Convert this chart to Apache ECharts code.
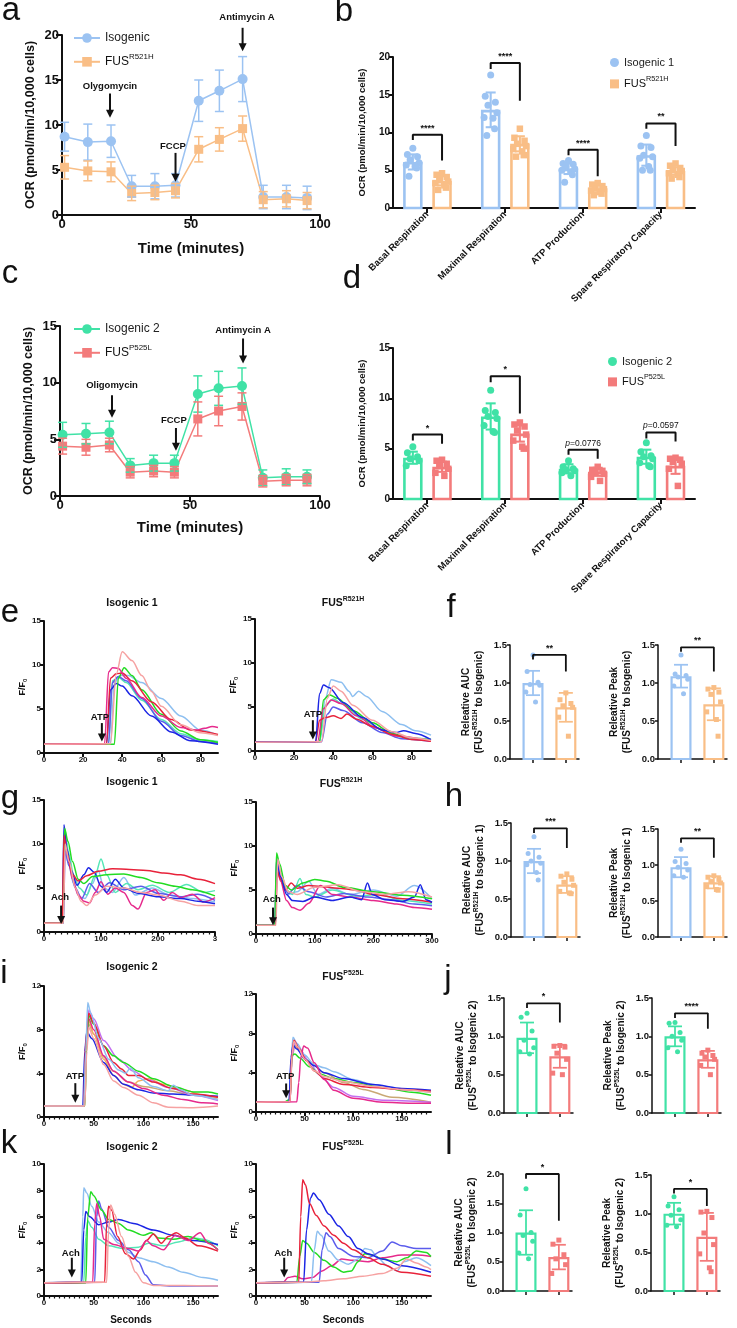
<!DOCTYPE html>
<html>
<head>
<meta charset="utf-8">
<script src="https://cdn.jsdelivr.net/npm/echarts@6/dist/echarts.min.js"></script>
<style>
html, body { margin: 0; padding: 0; background: #fff; }
#main { width: 737px; height: 1328px; }
</style>
</head>
<body>
<div id="main"></div>
<script>
"use strict";
/* ============= data: a / c  OCR time course ============= */
const timePts = [1, 10, 19, 27, 36, 44, 53, 61, 70, 78, 87, 95];
const aIsoMean = [8.7, 8.1, 8.2, 3.2, 3.2, 3.3, 12.7, 13.8, 15.1, 2.0, 2.0, 1.9];
const aIsoSd = [1.6, 2.0, 1.8, 1.2, 1.4, 1.3, 2.3, 2.3, 2.5, 1.3, 1.3, 1.3];
const aMutMean = [5.3, 4.9, 4.8, 2.4, 2.5, 2.7, 7.3, 8.4, 9.6, 1.7, 1.8, 1.6];
const aMutSd = [1.3, 1.1, 1.1, 0.8, 0.8, 0.8, 1.4, 1.3, 1.4, 0.9, 0.9, 0.9];
const cIsoMean = [5.4, 5.5, 5.6, 2.7, 2.9, 2.9, 9.0, 9.5, 9.7, 1.6, 1.7, 1.7];
const cIsoSd = [1.1, 0.9, 1.0, 0.6, 0.7, 0.7, 1.6, 1.5, 1.6, 0.7, 0.7, 0.6];
const cMutMean = [4.4, 4.3, 4.5, 2.1, 2.2, 2.1, 6.8, 7.5, 7.9, 1.3, 1.4, 1.4];
const cMutSd = [0.7, 0.7, 0.6, 0.5, 0.5, 0.5, 1.5, 1.3, 1.2, 0.5, 0.5, 0.5];
const aNotes = ["Olygomycin", "FCCP", "Antimycin A"];
const aNotePos = [[18.6, 14.3], [43, 7.6], [71.7, 22]];
const aArrows = [[18.6, 13.5, 10.8], [44, 6.9, 3.7], [70, 20.8, 18.2]];
const cNotes = ["Oligomycin", "FCCP", "Antimycin A"];
const cNotePos = [[20, 9.8], [43.8, 6.7], [70.4, 14.6]];
const cArrows = [[20, 8.9, 6.9], [44.6, 6.0, 4.0], [70.4, 13.9, 11.7]];

/* ============= data: b / d  respiration parameters ============= */
const respCats = ["Basal Respiration", "Maximal Respiration", "ATP Production", "Spare Respiratory Capacity"];
const bIsoMean = [6.1, 13.0, 5.2, 7.0];
const bIsoSd = [1.0, 2.3, 0.7, 1.4];
const bMutMean = [3.6, 8.5, 2.6, 4.9];
const bMutSd = [0.6, 1.0, 0.5, 0.5];
const bIsoPts = [
    [7.9, 7.1, 6.8, 6.4, 6.0, 5.7, 5.5, 5.3, 4.2],
    [17.6, 14.8, 14.0, 13.6, 12.6, 12.0, 11.9, 10.5, 9.6],
    [6.3, 5.9, 5.8, 5.5, 5.2, 5.0, 4.8, 4.4, 3.4],
    [9.6, 8.2, 8.0, 7.0, 6.8, 6.6, 5.5, 5.0, 5.0]];
const bMutPts = [
    [4.6, 4.4, 4.1, 3.8, 3.5, 3.3, 3.0, 2.7, 2.4],
    [10.5, 9.3, 8.9, 8.5, 8.2, 7.8, 7.5, 7.0, 6.8],
    [3.3, 3.1, 2.9, 2.7, 2.5, 2.3, 2.1, 1.9, 1.7],
    [5.9, 5.6, 5.3, 5.1, 4.9, 4.6, 4.4, 4.1, 3.9]];
const bSig = ["****", "****", "****", "**"];
const bSigTop = [9.7, 19.2, 7.7, 11.2];
const bSigLeft = [9.0, 18.4, 7.0, 10.5];
const bSigRight = [6.3, 14.2, 4.2, 8.2];

const dIsoMean = [4.1, 8.2, 3.0, 4.2];
const dIsoSd = [0.6, 1.3, 0.45, 0.7];
const dMutMean = [3.2, 6.5, 2.7, 3.3];
const dMutSd = [0.5, 0.8, 0.4, 0.8];
const dIsoPts = [
    [5.2, 4.6, 4.2, 4.0, 3.8, 3.3],
    [10.8, 8.8, 8.6, 8.2, 8.0, 7.3, 6.7, 6.6],
    [3.8, 3.2, 3.0, 2.9, 2.8, 2.6, 2.3],
    [5.6, 4.7, 4.3, 4.2, 4.0, 3.6, 3.3, 3.2]];
const dMutPts = [
    [3.9, 3.8, 3.5, 3.3, 3.0, 2.6, 2.3],
    [7.6, 7.4, 7.2, 6.8, 6.4, 5.8, 5.2, 5.0],
    [3.2, 2.9, 2.8, 2.7, 2.5, 2.2, 1.8],
    [4.1, 4.0, 3.9, 3.7, 3.5, 3.0, 1.3]];
const dSig = ["*", "*", "{i|p}=0.0776", "{i|p}=0.0597"];
const dSigTop = [6.4, 12.2, 4.9, 6.6];
const dSigLeft = [5.8, 11.6, 4.4, 6.0];
const dSigRight = [5.5, 8.5, 4.0, 5.7];

/* ============= data: calcium traces [colour, [seconds, F/F0]] ============= */
const eIso1 = [
    ["lightblue", [[0, 1], [34, 1.05], [36, 8.0], [39, 8.8], [43, 8.8], [50, 8.0], [60, 6.2], [70, 4.2], [80, 2.6], [89, 2.0]]],
    ["teal", [[0, 1], [33, 1.05], [35, 8.2], [38, 8.6], [42, 8.0], [50, 6.0], [60, 3.8], [70, 2.2], [80, 1.5], [89, 1.3]]],
    ["midblue", [[0, 1], [33, 1.0], [35, 8.0], [38, 8.7], [42, 8.2], [50, 6.2], [60, 3.6], [70, 2.0], [80, 1.3], [89, 1.1]]],
    ["blue", [[0, 1], [32, 1.05], [34, 7.2], [37, 7.9], [40, 7.6], [45, 6.5], [55, 4.2], [65, 2.4], [75, 1.4], [89, 1.0]]],
    ["green", [[0, 1], [36, 1.0], [38, 8.5], [41, 9.7], [45, 8.8], [50, 7.2], [60, 4.4], [70, 2.5], [80, 1.5], [89, 1.2]]],
    ["red", [[0, 1], [32, 1.05], [34, 8.5], [37, 9.0], [40, 9.1], [45, 8.2], [55, 5.8], [65, 3.8], [75, 2.6], [89, 2.1]]],
    ["pink", [[0, 1], [31, 1.05], [33, 9.2], [35, 9.7], [38, 9.6], [42, 8.5], [50, 6.3], [60, 4.2], [70, 2.9], [78, 2.6], [82, 2.8], [86, 3.0], [89, 2.9]]],
    ["salmon", [[0, 1], [34, 1.05], [37, 9], [40, 11.5], [45, 10.5], [50, 8.8], [55, 7], [60, 5.3], [70, 3.2], [80, 2.3], [89, 2.0]]]];
const eMut1 = [
    ["lightblue", [[0, 1], [33, 1.05], [36, 6], [39, 8.1], [44, 7.8], [48, 6.8], [50, 6.2], [53, 6.8], [57, 6.2], [65, 4.5], [75, 3.0], [82, 2.3], [90, 1.8]]],
    ["teal", [[0, 1], [33, 1.05], [36, 5.2], [40, 5.9], [45, 5.3], [55, 3.6], [65, 2.4], [75, 1.6], [90, 1.3]]],
    ["green", [[0, 1], [33, 1.05], [35, 5.8], [38, 6.4], [42, 6.0], [50, 4.6], [60, 3.2], [70, 2.0], [80, 1.4], [90, 1.3]]],
    ["midblue", [[0, 1], [34, 1.05], [37, 4.2], [40, 5.0], [45, 4.6], [55, 3.2], [65, 2.1], [75, 1.4], [90, 1.1]]],
    ["pink", [[0, 1], [32, 1.05], [35, 4.8], [39, 5.8], [44, 5.4], [52, 4.0], [62, 2.6], [72, 1.7], [90, 1.1]]],
    ["red", [[0, 1], [31, 1.05], [33, 3.5], [36, 3.8], [40, 4.0], [44, 3.7], [47, 4.2], [52, 3.6], [60, 2.8], [70, 1.9], [80, 1.3], [90, 1.1]]],
    ["blue", [[0, 1], [31, 1.05], [33, 6.5], [35, 7.5], [38, 7.2], [45, 5.5], [55, 3.8], [65, 2.4], [72, 2.1], [76, 2.3], [82, 2.0], [90, 1.3]]],
    ["salmon", [[0, 1], [34, 1.05], [37, 6], [40, 7.4], [44, 6.8], [50, 5.2], [60, 3.5], [70, 2.2], [80, 1.5], [90, 1.2]]]];
const gIso1 = [
    ["lightblue", [[0, 1], [33, 1], [36, 9.5], [42, 8], [52, 5.5], [62, 4], [72, 3.8], [85, 5.5], [95, 7], [105, 5], [120, 4.5], [140, 6.2], [160, 4.2], [190, 5], [220, 4.2], [260, 3.8], [300, 3.4]]],
    ["teal", [[0, 1], [34, 1], [37, 11.5], [43, 9], [52, 6.5], [62, 5], [75, 4.2], [90, 6.5], [100, 8.3], [110, 6.5], [125, 4.5], [145, 5.5], [165, 4.8], [190, 5.3], [220, 4.5], [250, 5.4], [280, 4.5], [300, 4.7]]],
    ["midblue", [[0, 1], [34, 1], [37, 9.2], [44, 7.5], [55, 5], [66, 3.8], [80, 5.5], [95, 4.5], [115, 5.6], [140, 4.8], [170, 5.2], [200, 4.4], [240, 4], [270, 4.3], [300, 3.6]]],
    ["pink", [[0, 1], [33, 1], [36, 11], [42, 8.5], [50, 6], [60, 4.2], [70, 3.5], [80, 3.3], [90, 4.5], [100, 5.7], [112, 4.3], [125, 5], [140, 4.5], [155, 3.0], [165, 2.6], [180, 4.5], [195, 4.8], [210, 3.6], [225, 4.5], [240, 3.9], [260, 4.3], [280, 3.4], [300, 3.9]]],
    ["blue", [[0, 1], [32, 1], [35, 12.2], [40, 9.5], [48, 7], [58, 5.3], [70, 6.5], [78, 7.3], [88, 6.8], [100, 5.2], [110, 4.5], [125, 6], [140, 5], [165, 4.4], [200, 4.0], [240, 3.8], [270, 3.5], [300, 3.2]]],
    ["green", [[0, 1], [33, 1], [36, 11.8], [42, 10.3], [50, 8], [60, 6], [70, 5.5], [85, 6.3], [110, 6.5], [140, 6.6], [170, 6.2], [200, 5.6], [230, 5.2], [260, 4.8], [300, 4.1]]],
    ["red", [[0, 1], [32, 1], [35, 11], [40, 9], [50, 6.5], [60, 5.8], [75, 6.4], [95, 6.9], [120, 7.2], [150, 7.1], [180, 7], [210, 6.7], [240, 6.5], [270, 6], [300, 5.5]]],
    ["salmon", [[0, 1], [34, 1], [37, 10], [44, 8], [55, 5], [65, 3.5], [75, 3], [90, 4.2], [110, 5.2], [140, 5], [170, 4.5], [200, 4.2], [240, 3.5], [270, 3], [300, 3.0]]]];
const gMut1 = [
    ["lightblue", [[0, 1], [33, 1], [36, 8], [44, 6], [55, 4.5], [70, 4.8], [90, 6], [105, 4.5], [130, 5.2], [160, 4.5], [200, 5], [240, 4.3], [270, 5.5], [300, 4.0]]],
    ["teal", [[0, 1], [33, 1], [36, 8.8], [42, 7], [52, 5], [62, 4.5], [75, 6.3], [85, 4.5], [100, 4.2], [130, 5], [170, 4.3], [210, 4.5], [250, 3.8], [300, 3.4]]],
    ["midblue", [[0, 1], [33, 1], [36, 7.8], [44, 6], [55, 4.6], [70, 5.5], [90, 4.8], [120, 4.2], [150, 4.6], [190, 4.2], [230, 3.9], [270, 3.4], [300, 3.2]]],
    ["pink", [[0, 1], [33, 1], [36, 7.4], [42, 6], [52, 3.8], [62, 3.0], [75, 2.7], [90, 3.5], [110, 5.5], [130, 4.5], [160, 4.2], [200, 3.8], [240, 3.4], [270, 3.0], [300, 2.8]]],
    ["red", [[0, 1], [33, 1], [36, 7.2], [42, 6.2], [50, 5], [60, 5.8], [70, 5.2], [90, 5.5], [110, 5.4], [140, 5.2], [170, 5], [200, 4.5], [250, 4.0], [300, 3.6]]],
    ["blue", [[0, 1], [32, 1], [35, 8.5], [42, 6.5], [52, 4.5], [62, 3.8], [80, 3.7], [100, 4.2], [130, 3.8], [160, 4.2], [180, 3.9], [190, 5.8], [198, 4.5], [220, 3.9], [250, 3.7], [270, 4.2], [280, 5.6], [290, 3.9], [300, 3.6]]],
    ["green", [[0, 1], [32, 1], [35, 9.2], [40, 8], [50, 5.5], [60, 5], [80, 5.8], [100, 6.2], [120, 6], [150, 5.3], [200, 4.8], [250, 4.4], [300, 4.0]]],
    ["salmon", [[0, 1], [34, 1], [37, 8.5], [44, 6.5], [55, 4.8], [70, 4.5], [100, 5.3], [140, 5.6], [180, 4.8], [220, 4.5], [260, 4.8], [300, 4.2]]]];
const iIso2 = [
    ["tan", [[0, 1], [41, 1], [43, 6.5], [45, 8.5], [50, 7.6], [60, 5.5], [70, 4.2], [85, 3.2], [100, 2.8], [125, 2.4], [150, 2.0], [175, 1.8]]],
    ["orange", [[0, 1], [40, 1], [43, 7], [45, 8.8], [50, 7.6], [60, 5.3], [70, 3.8], [80, 3.0], [88, 2.7], [95, 3.3], [105, 3.5], [120, 3.0], [140, 2.5], [160, 2.0], [175, 1.6]]],
    ["blue", [[0, 1], [39, 1], [41, 6], [43, 7.8], [48, 7.2], [60, 5], [70, 3.8], [80, 3.0], [95, 2.5], [110, 2.2], [130, 2.1], [150, 2.0], [175, 1.9]]],
    ["pink", [[0, 1], [40, 1], [43, 7], [45, 9], [50, 8], [60, 5.6], [70, 4.2], [85, 3.2], [100, 2.6], [120, 2.0], [140, 1.6], [160, 1.3], [175, 1.2]]],
    ["violet", [[0, 1], [40, 1], [43, 7], [45, 9.8], [50, 9.0], [60, 7], [75, 5.3], [90, 4.2], [105, 3.4], [125, 2.7], [150, 2.0], [175, 1.5]]],
    ["green", [[0, 1], [41, 1], [43, 7], [45, 9.3], [50, 8.5], [60, 6.5], [70, 5.6], [80, 5.0], [95, 4.2], [110, 3.5], [130, 2.8], [150, 2.3], [165, 2.3], [175, 2.1]]],
    ["red", [[0, 1], [40, 1], [42, 7], [45, 9.5], [50, 8.6], [60, 6.5], [70, 5], [78, 4.4], [85, 3.8], [95, 3.8], [110, 3.2], [130, 2.6], [150, 2.1], [175, 1.8]]],
    ["lightblue", [[0, 1], [40, 1], [42, 6], [44, 10.5], [47, 9.5], [55, 7.2], [65, 5.3], [75, 4.3], [82, 4.0], [87, 4.5], [95, 3.6], [110, 2.8], [125, 2.4], [130, 2.9], [137, 2.5], [150, 2.0], [175, 1.6]]],
    ["salmon", [[0, 1], [41, 1], [43, 6], [45, 8.2], [50, 7.2], [60, 4.8], [70, 3.3], [80, 2.7], [95, 2.0], [110, 1.3], [125, 0.9], [150, 0.85], [175, 1.0]]]];
const iMut2 = [
    ["tan", [[0, 1], [35, 1.05], [37, 5.5], [40, 6.8], [45, 6.2], [55, 5.1], [70, 4.0], [90, 3.0], [110, 2.3], [140, 1.5], [180, 1.0]]],
    ["violet", [[0, 1], [35, 1.05], [37, 5.5], [40, 7.2], [45, 6.4], [55, 5], [65, 3.8], [80, 2.5], [100, 1.6], [130, 1.2], [180, 1.0]]],
    ["green", [[0, 1], [30, 1.05], [35, 1.3], [37, 5.8], [40, 5.9], [45, 5.5], [55, 4.6], [65, 3.9], [80, 3.4], [100, 3.0], [130, 2.5], [160, 2.0], [180, 1.7]]],
    ["lightblue", [[0, 1], [34, 1.05], [36, 5], [38, 7.6], [42, 7.0], [50, 5.8], [60, 4.8], [70, 4.5], [80, 4.1], [100, 3.3], [120, 2.8], [150, 2.3], [180, 2.0]]],
    ["blue", [[0, 1], [34, 1.05], [36, 5.5], [38, 6.8], [42, 6.4], [50, 5.4], [60, 4.7], [70, 4.0], [90, 3.4], [120, 2.8], [150, 2.4], [180, 2.2]]],
    ["red", [[0, 1], [35, 1.05], [37, 6], [39, 7.3], [44, 6.5], [52, 5.2], [60, 4.2], [70, 3.4], [90, 2.8], [120, 2.5], [150, 2.3], [180, 2.1]]],
    ["pink", [[0, 1], [42, 1.05], [44, 3], [46, 5.5], [49, 6.7], [53, 6.5], [60, 5], [70, 3.3], [80, 2.2], [100, 1.4], [130, 1.0], [160, 0.9], [180, 0.9]]],
    ["salmon", [[0, 1], [35, 1.05], [37, 5.8], [39, 7.2], [43, 6.6], [50, 5.4], [60, 4.2], [70, 3.6], [90, 3.1], [120, 2.6], [150, 2.3], [180, 2.0]]]];
const kIso2 = [
    ["lightblue", [[0, 1], [37, 1.05], [39, 6], [40, 8.2], [43, 7.8], [48, 6.8], [55, 5.6], [65, 4.8], [75, 4.0], [85, 3.3], [95, 2.9], [110, 2.6], [125, 2.2], [140, 1.8], [160, 1.4], [175, 1.2]]],
    ["teal", [[0, 1], [40, 1.05], [42, 4.5], [44, 5.7], [48, 5.2], [55, 4.3], [65, 3.8], [80, 3.6], [95, 3.7], [105, 4.0], [120, 3.8], [135, 4.1], [150, 4.4], [160, 4.3], [175, 3.8]]],
    ["midblue", [[0, 1], [51, 1.05], [53, 6], [55, 7.2], [58, 6.6], [65, 5.2], [75, 4.2], [85, 3.5], [95, 2.6], [102, 1.6], [110, 0.85], [130, 0.75], [175, 0.75]]],
    ["blue", [[0, 1], [38, 1.05], [40, 5], [42, 6.4], [46, 6.0], [55, 5.4], [65, 5.6], [75, 5.8], [90, 5.5], [110, 5.0], [130, 4.6], [150, 4.2], [175, 3.9]]],
    ["green", [[0, 1], [42, 1.0], [44, 6], [47, 7.9], [50, 7.6], [58, 6.5], [65, 5.8], [75, 5.5], [85, 5.0], [100, 4.6], [108, 4.8], [115, 4.4], [130, 4.3], [145, 4.5], [160, 4.2], [175, 3.5]]],
    ["red", [[0, 1], [61, 1.05], [63, 5.5], [65, 6.8], [68, 6.5], [74, 4.5], [82, 3.2], [90, 2.8], [97, 3.5], [103, 4.2], [110, 4.7], [118, 4.0], [125, 4.5], [133, 4.8], [142, 4.4], [155, 3.8], [175, 3.4]]],
    ["pink", [[0, 1], [49, 1.05], [51, 5.5], [53, 7.0], [56, 6.0], [60, 4.3], [70, 3.9], [85, 3.6], [95, 3.4], [103, 4.2], [110, 3.8], [120, 3.5], [132, 4.6], [145, 4.2], [157, 4.8], [165, 4.0], [175, 3.5]]],
    ["salmon", [[0, 1], [63, 1.05], [65, 5], [67, 6.9], [71, 6.2], [78, 4.5], [85, 3.0], [92, 1.8], [100, 1.0], [110, 0.8], [140, 0.8], [175, 0.75]]]];
const kMut2 = [
    ["pink", [[0, 1], [28, 1.05], [33, 1.4], [40, 1.5], [48, 1.3], [58, 1.4], [68, 1.9], [78, 2.3], [88, 2.8], [100, 2.7], [115, 2.6], [130, 2.9], [150, 3.1], [165, 3.1], [180, 3.0]]],
    ["green", [[0, 1], [42, 1.05], [45, 3], [48, 4.2], [52, 4.0], [60, 3.3], [70, 2.7], [80, 2.2], [90, 1.8], [98, 1.9], [105, 2.6], [112, 3.2], [120, 3.1], [130, 2.8], [145, 2.6], [155, 2.9], [165, 3.4], [175, 3.3], [180, 3.0]]],
    ["lightblue", [[0, 1], [57, 1.05], [60, 3.5], [63, 4.9], [67, 4.6], [75, 3.4], [85, 2.7], [95, 2.4], [105, 2.8], [112, 3.6], [118, 3.5], [125, 2.9], [135, 2.3], [145, 1.9], [152, 2.6], [165, 2.9], [180, 2.3]]],
    ["midblue", [[0, 1], [65, 1.05], [68, 3.5], [72, 4.8], [76, 4.5], [85, 3.6], [100, 3.0], [115, 2.9], [130, 3.4], [140, 4.1], [150, 3.8], [165, 3.6], [180, 3.6]]],
    ["blue", [[0, 1], [49, 1.05], [52, 5], [56, 7.4], [59, 7.8], [65, 7.3], [75, 6.2], [85, 5.3], [95, 4.5], [105, 3.6], [115, 3.2], [130, 2.8], [150, 2.3], [180, 1.8]]],
    ["red", [[0, 1], [44, 1.05], [46, 6], [48, 8.8], [51, 8.4], [55, 7.0], [62, 6.1], [70, 5.3], [80, 4.6], [90, 4.0], [100, 3.5], [115, 2.9], [130, 2.4], [150, 1.8], [180, 1.5]]],
    ["salmon", [[0, 1], [50, 1.05], [70, 1.15], [90, 1.3], [110, 1.5], [130, 1.7], [145, 2.1], [155, 2.8], [165, 2.5], [175, 2.2], [180, 2.0]]]];

/* ============= data: relative AUC / peak (iso, mutant) ============= */
const fAucMean = [1.0, 0.68], fAucSd = [0.16, 0.19];
const fAucIso = [1.37, 1.15, 1.01, 0.98, 0.97, 0.88, 0.75];
const fAucMut = [0.87, 0.78, 0.73, 0.70, 0.68, 0.55, 0.30];
const fAucSig = [1.37, 1.31, 1.15];
const fPeakMean = [1.09, 0.72], fPeakSd = [0.15, 0.21];
const fPeakIso = [1.37, 1.12, 1.10, 1.08, 1.05, 0.96, 0.86];
const fPeakMut = [0.94, 0.92, 0.88, 0.85, 0.75, 0.62, 0.52, 0.30];
const fPeakSig = [1.47, 1.41, 1.15];
const hAucMean = [1.0, 0.69], hAucSd = [0.16, 0.11];
const hAucIso = [1.32, 1.10, 1.05, 1.00, 0.97, 0.95, 0.85, 0.75];
const hAucMut = [0.83, 0.80, 0.76, 0.72, 0.68, 0.60, 0.58, 0.57];
const hAucSig = [1.43, 1.37, 1.17];
const hPeakMean = [0.97, 0.76], hPeakSd = [0.14, 0.085];
const hPeakIso = [1.22, 1.05, 1.02, 0.97, 0.93, 0.85, 0.83];
const hPeakMut = [0.85, 0.83, 0.80, 0.77, 0.75, 0.70, 0.66, 0.65];
const hPeakSig = [1.37, 1.31, 1.10];
const jAucMean = [0.98, 0.74], jAucSd = [0.20, 0.15];
const jAucIso = [1.30, 1.25, 1.07, 0.95, 0.85, 0.80, 0.77];
const jAucMut = [0.88, 0.87, 0.86, 0.78, 0.70, 0.52, 0.50];
const jAucSig = [1.43, 1.37, 1.18];
const jPeakMean = [1.0, 0.70], jPeakSd = [0.13, 0.11];
const jPeakIso = [1.18, 1.17, 1.05, 1.00, 0.95, 0.85, 0.80];
const jPeakMut = [0.82, 0.78, 0.75, 0.73, 0.70, 0.62, 0.50];
const jPeakSig = [1.30, 1.24, 1.10];
const lAucMean = [1.0, 0.58], lAucSd = [0.38, 0.21];
const lAucIso = [1.75, 1.30, 1.00, 0.95, 0.85, 0.65, 0.55];
const lAucMut = [0.87, 0.80, 0.62, 0.55, 0.45, 0.30];
const lAucSig = [2.0, 1.92, 1.2];
const lPeakMean = [1.0, 0.70], lPeakSd = [0.14, 0.31];
const lPeakIso = [1.22, 1.10, 1.05, 0.98, 0.92, 0.85, 0.83];
const lPeakMut = [1.03, 1.02, 0.95, 0.75, 0.60, 0.48, 0.30, 0.25];
const lPeakSig = [1.32, 1.26, 1.10];

/* horizontal spread of dots inside a bar, as a fraction of the bar half width */
const JIT = [0, -0.7, 0.6, -0.35, 0.8, -0.85, 0.3, 0.5, -0.5, 0.15];

/* ============= styles ============= */
const FONT = '"Liberation Sans", Arial, Helvetica, sans-serif';
const BLUE = "#9cc3f2", ORANGE = "#f9be86", GREEN = "#40e2a6", SALMON = "#f37b7b";
const TC = {
    red: "#e8223a", pink: "#e62a8c", salmon: "#f6a2a2", green: "#22dc22", blue: "#1b25e4",
    midblue: "#5b5cec", lightblue: "#8dbff0", teal: "#55e6b6", violet: "#c46ef0", tan: "#c9a874", orange: "#f2ae5c"
};
function supRich(fs, bold) {
    const w = bold ? "bold" : "normal";
    return {
        n: { fontSize: fs, fontWeight: w, fontFamily: FONT, color: "#111" },
        s: { fontSize: fs * 0.66, fontWeight: w, fontFamily: FONT, color: "#111", padding: [0, 0, fs * 0.8, 0] },
        d: { fontSize: fs * 0.66, fontWeight: w, fontFamily: FONT, color: "#111", padding: [fs * 0.6, 0, 0, 0] },
        i: { fontSize: fs, fontStyle: "italic", fontFamily: FONT, color: "#111" }
    };
}
function supName(name) {
    return name.indexOf("FUS ") === 0 ? "{n|FUS}{s|" + name.slice(4) + "}" : name;
}

const opt = {
    animation: false, backgroundColor: "#fff", textStyle: { fontFamily: FONT },
    grid: [], xAxis: [], yAxis: [], series: [], legend: [], graphic: []
};

function axis(idx, p) {
    const lw = p.lw || 2;
    const ns = p.nameSize || 10;
    return {
        gridIndex: idx, type: "value", min: p.min, max: p.max, interval: p.interval,
        name: p.name || "", nameLocation: "middle", nameGap: p.nameGap || 20,
        nameTextStyle: { color: "#111", fontWeight: "bold", fontFamily: FONT, fontSize: ns, lineHeight: ns * 1.3, rich: supRich(ns, true) },
        axisLine: { show: true, onZero: false, lineStyle: { color: "#111", width: lw } },
        axisTick: { show: true, length: p.tick || 4, customValues: p.ticks, lineStyle: { color: "#111", width: lw } },
        minorTick: { show: !!p.minor, splitNumber: p.minor || 5, length: 2.5, lineStyle: { color: "#111", width: 1.2 } },
        axisLabel: {
            show: p.labels !== false, color: "#111", fontWeight: "bold", fontFamily: FONT, fontSize: p.size || 9,
            margin: p.margin || 3, customValues: p.labelValues || p.ticks, formatter: p.fmt, rotate: p.rotate || 0
        },
        splitLine: { show: false }
    };
}
function panel(l, t, w, h, xp, yp) {
    const idx = opt.grid.length;
    opt.grid.push({ left: l, top: t, width: w, height: h });
    opt.xAxis.push(axis(idx, xp));
    opt.yAxis.push(axis(idx, yp));
    return idx;
}
function errBars(idx, rows, color, cap, lw) {
    opt.series.push({
        type: "custom", xAxisIndex: idx, yAxisIndex: idx, silent: true, z: 5,
        dimensions: ["x", "lo", "hi"], encode: { x: 0, y: [1, 2] }, data: rows,
        renderItem: function (params, api) {
            const lo = api.coord([api.value(0), api.value(1)]);
            const hi = api.coord([api.value(0), api.value(2)]);
            const st = { stroke: color, lineWidth: lw };
            return { type: "group", children: [
                { type: "line", shape: { x1: lo[0], y1: lo[1], x2: hi[0], y2: hi[1] }, style: st },
                { type: "line", shape: { x1: lo[0] - cap, y1: lo[1], x2: lo[0] + cap, y2: lo[1] }, style: st },
                { type: "line", shape: { x1: hi[0] - cap, y1: hi[1], x2: hi[0] + cap, y2: hi[1] }, style: st }
            ] };
        }
    });
}
function ocrLine(idx, name, means, sds, color, symbol, size) {
    opt.series.push({
        type: "line", name: name, xAxisIndex: idx, yAxisIndex: idx, z: 4,
        data: timePts.map((t, i) => [t, means[i]]),
        symbol: symbol, symbolSize: size, itemStyle: { color: color }, lineStyle: { color: color, width: 1.5 }
    });
    errBars(idx, timePts.map((t, i) => [t, means[i] - sds[i], means[i] + sds[i]]), color, 4.5, 1.5);
}
function bars(idx, xs, means, sds, pts, color, symbol, hw, lw, psize, cap, name) {
    opt.series.push({
        type: "custom", xAxisIndex: idx, yAxisIndex: idx, silent: true, z: 2,
        dimensions: ["x", "v"], encode: { x: 0, y: 1 }, data: xs.map((x, i) => [x, means[i]]),
        renderItem: function (params, api) {
            const p0 = api.coord([api.value(0) - hw, api.value(1)]);
            const p1 = api.coord([api.value(0) + hw, 0]);
            return { type: "rect",
                shape: { x: p0[0] + lw / 2, y: p0[1] + lw / 2, width: p1[0] - p0[0] - lw, height: p1[1] - p0[1] - lw / 2 },
                style: { fill: "#fff", stroke: color, lineWidth: lw } };
        }
    });
    const dots = [];
    pts.forEach((g, i) => g.forEach((v, k) => dots.push([xs[i] + JIT[k % JIT.length] * hw * 0.8, v])));
    opt.series.push({
        type: "scatter", name: name, xAxisIndex: idx, yAxisIndex: idx, z: 4, data: dots,
        symbol: symbol, symbolSize: psize, itemStyle: { color: color, opacity: 1 }
    });
    errBars(idx, xs.map((x, i) => [x, means[i] - sds[i], means[i] + sds[i]]), color, cap, lw * 0.8);
}
function texts(idx, pos, labels, font, va, dy) {
    opt.series.push({
        type: "custom", xAxisIndex: idx, yAxisIndex: idx, silent: true, z: 8,
        dimensions: ["x", "y"], encode: { x: 0, y: 1 }, data: pos,
        renderItem: function (params, api) {
            const c = api.coord([api.value(0), api.value(1)]);
            return { type: "text", x: c[0], y: c[1] + (dy || 0),
                style: { text: labels[params.dataIndex], fill: "#111", font: font,
                    align: "center", verticalAlign: va || "middle", textAlign: "center", textVerticalAlign: va || "middle",
                    rich: supRich(8.5, false) } };
        }
    });
}
function arrows(idx, list, lw) {
    opt.series.push({
        type: "custom", xAxisIndex: idx, yAxisIndex: idx, silent: true, z: 8,
        dimensions: ["x", "y1", "y2"], encode: { x: 0, y: [1, 2] }, data: list,
        renderItem: function (params, api) {
            const a = api.coord([api.value(0), api.value(1)]);
            const b = api.coord([api.value(0), api.value(2)]);
            return { type: "group", children: [
                { type: "line", shape: { x1: a[0], y1: a[1], x2: b[0], y2: b[1] - 6 }, style: { stroke: "#111", lineWidth: lw || 2 } },
                { type: "polygon", shape: { points: [[b[0] - 4, b[1] - 8], [b[0] + 4, b[1] - 8], [b[0], b[1]]] }, style: { fill: "#111" } }
            ] };
        }
    });
}
function bracket(idx, x0, x1, top, yl, yr, label, font, lw) {
    opt.series.push({
        type: "line", xAxisIndex: idx, yAxisIndex: idx, silent: true, z: 6, symbol: "none",
        data: [[x0, yl], [x0, top], [x1, top], [x1, yr]], lineStyle: { color: "#111", width: lw }
    });
    texts(idx, [[(x0 + x1) / 2, top]], [label], font, "bottom", -2);
}
function traces(idx, list) {
    list.forEach(([c, pts]) => opt.series.push({
        type: "line", xAxisIndex: idx, yAxisIndex: idx, silent: true, z: 3, data: pts,
        smooth: 0.3, smoothMonotone: "x", symbol: "none", lineStyle: { color: TC[c], width: 1.5 }
    }));
}
function gText(x, y, text, fs, weight) {
    opt.graphic.push({ type: "text", x: x, y: y, silent: true,
        style: { text: text, fill: "#111", font: weight + " " + fs + "px " + FONT,
            align: "center", verticalAlign: "middle", textAlign: "center", textVerticalAlign: "middle",
            rich: supRich(fs, weight === "bold") } });
}
function legend(left, top, gap, fs, items) {
    opt.legend.push({
        left: left, top: top, orient: "vertical", itemGap: gap, itemWidth: items[0].icon ? 9 : 26, itemHeight: items[0].icon ? 9 : 12,
        selectedMode: false, data: items, formatter: supName,
        textStyle: { fontSize: fs, color: "#222", fontFamily: FONT, rich: supRich(fs, false) }
    });
}

/* ============= a ============= */
const pa = panel(62, 35, 258, 180,
    { min: 0, max: 100, interval: 50, size: 13, tick: 6, name: "Time (minutes)", nameSize: 15, nameGap: 24 },
    { min: 0, max: 20, interval: 5, size: 13, tick: 6, name: "OCR (pmol/min/10,000 cells)", nameSize: 12.5, nameGap: 23 });
ocrLine(pa, "Isogenic", aIsoMean, aIsoSd, BLUE, "circle", 10);
ocrLine(pa, "FUS R521H", aMutMean, aMutSd, ORANGE, "rect", 9);
arrows(pa, aArrows, 2);
texts(pa, aNotePos, aNotes, "bold 9.5px " + FONT);
legend(68, 27, 9, 12, [{ name: "Isogenic" }, { name: "FUS R521H" }]);

/* ============= c ============= */
const pc = panel(60, 326, 260, 170,
    { min: 0, max: 100, interval: 50, size: 13, tick: 6, name: "Time (minutes)", nameSize: 15, nameGap: 22 },
    { min: 0, max: 15, interval: 5, size: 13, tick: 6, name: "OCR (pmol/min/10,000 cells)", nameSize: 12.5, nameGap: 23 });
ocrLine(pc, "Isogenic 2", cIsoMean, cIsoSd, GREEN, "circle", 10);
ocrLine(pc, "FUS P525L", cMutMean, cMutSd, SALMON, "rect", 9);
arrows(pc, cArrows, 2);
texts(pc, cNotePos, cNotes, "bold 9.5px " + FONT);
legend(68, 318, 9, 12, [{ name: "Isogenic 2" }, { name: "FUS P525L" }]);

/* ============= b / d ============= */
function respPanel(top, height, ymax, isoMean, isoSd, isoPts, mutMean, mutSd, mutPts, isoColor, mutColor, isoName, mutName, sig, sTop, sL, sR, sigFont) {
    const idx = panel(393, top, 302, height,
        { min: -0.44, max: 3.44, ticks: [0, 1, 2, 3], fmt: v => respCats[v], rotate: 45, size: 9.5, tick: 5, margin: 5 },
        { min: 0, max: ymax, interval: 5, size: 10, tick: 4, name: "OCR (pmol/min/10,000 cells)", nameSize: 9.5, nameGap: 24 });
    const xi = [-0.185, 0.815, 1.815, 2.815], xm = [0.19, 1.19, 2.19, 3.19];
    bars(idx, xi, isoMean, isoSd, isoPts, isoColor, "circle", 0.125, 2.6, 7, 5, isoName);
    bars(idx, xm, mutMean, mutSd, mutPts, mutColor, "rect", 0.125, 2.6, 6.5, 5, mutName);
    sig.forEach((s, i) => bracket(idx, xi[i], xm[i], sTop[i], sL[i], sR[i], s, sigFont(s), 2));
    return idx;
}
respPanel(57, 151, 20, bIsoMean, bIsoSd, bIsoPts, bMutMean, bMutSd, bMutPts, BLUE, ORANGE, "Isogenic 1", "FUS R521H",
    bSig, bSigTop, bSigLeft, bSigRight, () => "bold 9px " + FONT);
legend(605, 52, 8, 11, [{ name: "Isogenic 1", icon: "circle" }, { name: "FUS R521H", icon: "rect" }]);
respPanel(348, 151, 15, dIsoMean, dIsoSd, dIsoPts, dMutMean, dMutSd, dMutPts, GREEN, SALMON, "Isogenic 2", "FUS P525L",
    dSig, dSigTop, dSigLeft, dSigRight, s => s.length > 2 ? "normal 8.5px " + FONT : "bold 9px " + FONT);
legend(603, 351, 7, 11, [{ name: "Isogenic 2", icon: "circle" }, { name: "FUS P525L", icon: "rect" }]);

/* ============= calcium trace panels ============= */
function tracePanel(l, t, w, h, xmax, xint, xticks, ymax, yint, minor, list, note, notePos, arrow, xname, xfmt) {
    const idx = panel(l, t, w, h,
        { min: 0, max: xmax, interval: xint, ticks: xticks, size: 8, tick: 4, minor: minor, fmt: xfmt, name: xname, nameSize: 10, nameGap: 18 },
        { min: 0, max: ymax, interval: yint, size: 8, tick: 4, name: "F/F{d|0}", nameSize: 9, nameGap: 15 });
    traces(idx, list);
    arrows(idx, [arrow], 2);
    texts(idx, [notePos], [note], "bold 9.5px " + FONT);
    return idx;
}
tracePanel(44, 621, 174, 132, 89, 20, [0, 20, 40, 60, 80], 15, 5, 0, eIso1, "ATP", [28.6, 4.1], [29.6, 3.4, 1.3]);
tracePanel(255, 619, 176, 132, 90, 20, [0, 20, 40, 60, 80], 15, 5, 0, eMut1, "ATP", [29.6, 4.2], [29.6, 3.5, 1.3]);
tracePanel(44, 800, 171, 132, 300, 100, undefined, 15, 5, 10, gIso1, "Ach", [28, 3.9], [30, 3.0, 0.9], "", v => v === 300 ? "3" : v);
tracePanel(256, 802, 176, 132, 300, 100, undefined, 15, 5, 10, gMut1, "Ach", [27, 3.9], [29, 3.0, 1.0]);
tracePanel(44, 986, 174, 131, 175, 50, [0, 50, 100, 150], 12, 4, 10, iIso2, "ATP", [31, 3.7], [31.5, 3.1, 1.3]);
tracePanel(256, 994, 175, 118, 180, 50, [0, 50, 100, 150], 12, 4, 10, iMut2, "ATP", [30, 3.6], [31, 2.9, 1.4]);
tracePanel(44, 1164, 174, 134, 175, 50, [0, 50, 100, 150], 10, 2, 10, kIso2, "Ach", [27, 3.2], [28, 2.9, 1.4], "Seconds");
tracePanel(256, 1164, 175, 134, 180, 50, [0, 50, 100, 150], 10, 2, 10, kMut2, "Ach", [28, 3.2], [29, 2.9, 1.4], "Seconds");

/* ============= relative AUC / peak bar panels ============= */
function miniPanel(l, t, h, ymax, name, means, sds, isoPts, mutPts, isoColor, mutColor, stars, sig) {
    const idx = panel(l, t, 69, h,
        { min: -0.7, max: 1.4, ticks: [0, 1], labels: false, tick: 4, lw: 1.5 },
        { min: 0, max: ymax, interval: 0.5, size: 9.5, tick: 3, lw: 1.5, fmt: v => v.toFixed(1), name: name, nameSize: 10, nameGap: 24 });
    bars(idx, [0], [means[0]], [sds[0]], [isoPts], isoColor, "circle", 0.32, 2.2, 5, 7);
    bars(idx, [1], [means[1]], [sds[1]], [mutPts], mutColor, "rect", 0.32, 2.2, 5, 7);
    bracket(idx, 0, 1, sig[0], sig[1], sig[2], stars, "bold 9px " + FONT, 1.8);
}
const aucR = "Releative AUC\n({n|FUS}{s|R521H} to Isogenic", peakR = "Releative Peak\n({n|FUS}{s|R521H} to Isogenic";
const aucP = "Releative AUC\n({n|FUS}{s|P525L} to Isogenic 2)", peakP = "Releative Peak\n({n|FUS}{s|P525L} to Isogenic 2)";
miniPanel(510, 645, 114, 1.5, aucR + ")", fAucMean, fAucSd, fAucIso, fAucMut, BLUE, ORANGE, "**", fAucSig);
miniPanel(658, 645, 114, 1.5, peakR + ")", fPeakMean, fPeakSd, fPeakIso, fPeakMut, BLUE, ORANGE, "**", fPeakSig);
miniPanel(511, 823, 114, 1.5, aucR + " 1)", hAucMean, hAucSd, hAucIso, hAucMut, BLUE, ORANGE, "***", hAucSig);
miniPanel(658, 829, 108, 1.5, peakR + " 1)", hPeakMean, hPeakSd, hPeakIso, hPeakMut, BLUE, ORANGE, "**", hPeakSig);
miniPanel(504, 998, 115, 1.5, aucP, jAucMean, jAucSd, jAucIso, jAucMut, GREEN, SALMON, "*", jAucSig);
miniPanel(652, 998, 115, 1.5, peakP, jPeakMean, jPeakSd, jPeakIso, jPeakMut, GREEN, SALMON, "****", jPeakSig);
miniPanel(503, 1174, 117, 2.0, aucP, lAucMean, lAucSd, lAucIso, lAucMut, GREEN, SALMON, "*", lAucSig);
miniPanel(651, 1175, 116, 1.5, peakP, lPeakMean, lPeakSd, lPeakIso, lPeakMut, GREEN, SALMON, "*", lPeakSig);

/* ============= titles and panel letters ============= */
gText(132, 603, "Isogenic 1", 10.5, "bold");
gText(343, 603, "{n|FUS}{s|R521H}", 10.5, "bold");
gText(132, 782, "Isogenic 1", 10.5, "bold");
gText(341, 784, "{n|FUS}{s|R521H}", 10.5, "bold");
gText(132, 967, "Isogenic 2", 10.5, "bold");
gText(343, 977, "{n|FUS}{s|P525L}", 10.5, "bold");
gText(132, 1147, "Isogenic 2", 10.5, "bold");
gText(343, 1147, "{n|FUS}{s|P525L}", 10.5, "bold");
[["a", 11, 11], ["b", 344, 12], ["c", 10, 274], ["d", 352, 279], ["e", 10, 613], ["f", 451, 608],
 ["g", 10, 799], ["h", 454, 797], ["i", 4, 974], ["j", 448, 979], ["k", 9, 1144], ["l", 449, 1145]]
    .forEach(([t, x, y]) => gText(x, y, t, 33, "normal"));

const chart = echarts.init(document.getElementById("main"));
chart.setOption(opt);
</script>
</body>
</html>
